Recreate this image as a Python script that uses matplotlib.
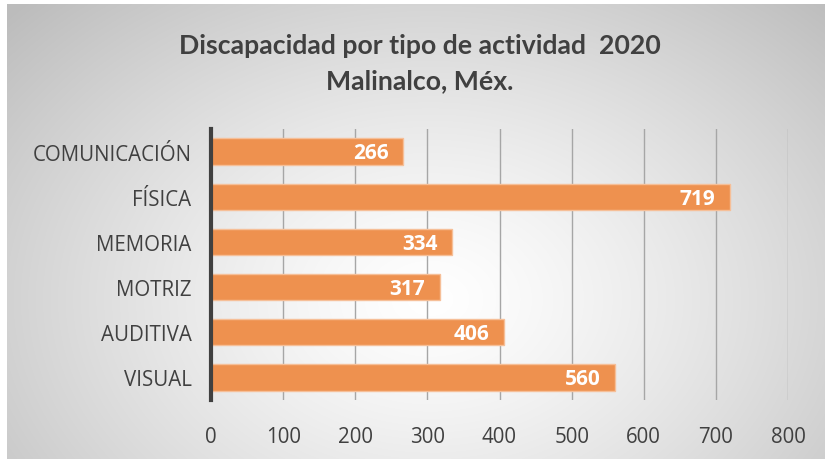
import numpy as np
import matplotlib
matplotlib.use("Agg")
import matplotlib.pyplot as plt

categories = ["COMUNICACIÓN", "FÍSICA", "MEMORIA", "MOTRIZ", "AUDITIVA", "VISUAL"]
values = [266, 719, 334, 317, 406, 560]
xticks = [0, 100, 200, 300, 400, 500, 600, 700, 800]
title = "Discapacidad por tipo de actividad  2020\nMalinalco, Méx."

W, H = 825, 460
fig = plt.figure(figsize=(W / 100, H / 100), dpi=100)

# background: white margin + radial gradient panel
bg = fig.add_axes([0, 0, 1, 1], zorder=0)
bg.set_axis_off()
yy, xx = np.mgrid[0:H, 0:W]
cx, cy = 430, 300
r = np.sqrt(((xx - cx) / 520.0) ** 2 + ((yy - cy) / 380.0) ** 2)
r = np.clip(r, 0, 1.1)
lum = 1.0 - 0.23 * r ** 1.3
img = np.dstack([lum, lum, lum])
img[:5, :, :] = 1.0
img[:, :7, :] = 1.0
bg.imshow(img, extent=[0, W, H, 0], aspect="auto", interpolation="bilinear")
bg.set_xlim(0, W)
bg.set_ylim(H, 0)

ax = fig.add_axes([211 / W, 1 - 401 / H, (788 - 211) / W, (401 - 130) / H], zorder=1)
ax.patch.set_alpha(0)

y = np.arange(len(categories))
ax.barh(y, values, height=0.58, color="#EE914F", edgecolor="#F6BF98",
        linewidth=1.0, zorder=3)
for yi, v in zip(y, values):
    ax.text(v - 20, yi + 0.03, str(v), ha="right", va="center", color="white",
            fontsize=15, fontweight="bold", family=["Open Sans", "DejaVu Sans"], zorder=4)

ax.set_ylim(len(categories) - 0.5, -0.5)
ax.set_xlim(0, 800)
ax.set_xticks(xticks)
ax.set_xticklabels([str(t) for t in xticks])
ax.set_yticks(y)
ax.set_yticklabels(categories)
ax.tick_params(axis="both", length=0, labelsize=14.8, colors="#404040")
ax.tick_params(axis="x", pad=19)
ax.tick_params(axis="y", pad=14)
for lab in ax.get_xticklabels() + ax.get_yticklabels():
    lab.set_family(["Open Sans", "DejaVu Sans"])
    lab.set_color("#404040")

ax.grid(axis="x", color="#A6A6A6", linewidth=1.0, zorder=0)
ax.grid(axis="y", visible=False)
for s in ["top", "right", "bottom"]:
    ax.spines[s].set_visible(False)
ax.spines["left"].set_color("#404040")
ax.spines["left"].set_linewidth(3)
ax.spines["left"].set_zorder(5)

fig.text(420 / W, 1 - 64 / H, title, ha="center", va="center", fontsize=19.2,
         fontweight="bold", color="#404040", linespacing=1.55,
         family=["Lato", "DejaVu Sans"])

fig.savefig("out.png", dpi=100)
